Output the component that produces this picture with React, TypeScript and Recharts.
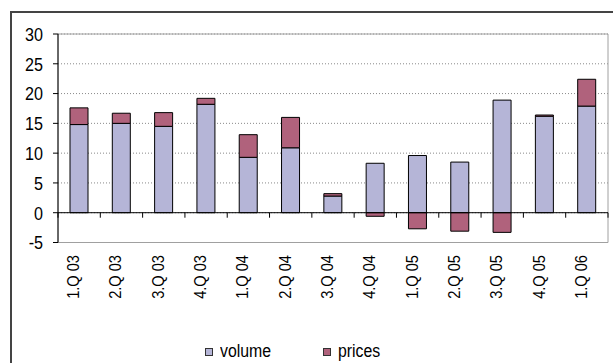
import { BarChart, Bar, XAxis, YAxis, CartesianGrid, ReferenceLine, ReferenceArea, Legend } from 'recharts'

const quarters = ['1.Q 03', '2.Q 03', '3.Q 03', '4.Q 03', '1.Q 04', '2.Q 04', '3.Q 04', '4.Q 04', '1.Q 05', '2.Q 05', '3.Q 05', '4.Q 05', '1.Q 06']
const volume = [14.8, 15.0, 14.5, 18.2, 9.3, 10.9, 2.8, 8.3, 9.6, 8.5, 18.9, 16.2, 17.9]
const prices = [2.8, 1.7, 2.3, 1.0, 3.8, 5.1, 0.4, -0.6, -2.7, -3.1, -3.3, 0.2, 4.5]
const yTicks = [-5, 0, 5, 10, 15, 20, 25, 30]

const FONT = "'Liberation Sans', Arial, sans-serif"
const VOL = '#b5b5d7'
const PRI = '#b0627c'

const data = quarters.map((q, i) => ({ q, volume: volume[i], prices: prices[i] }))

// zero line with small ticks between the categories
function ZeroLine(p: any) {
  const { x1, x2, y1 } = p
  const step = (x2 - x1) / quarters.length
  return (
    <g>
      <line x1={x1} x2={x2} y1={y1} y2={y1} stroke="#000" strokeWidth={1} />
      {quarters.concat('').map((_, i) => (
        <line key={i} x1={x1 + i * step} x2={x1 + i * step} y1={y1} y2={y1 + 5} stroke="#000" />
      ))}
    </g>
  )
}

function QuarterTick({ x, y, payload }: any) {
  return (
    <text transform={`translate(${x},${y + 12.5}) rotate(-90) scale(0.86,1)`} textAnchor="end" fontFamily={FONT} fontSize={17} fill="#000">
      {payload.value}
    </text>
  )
}

// narrow-looking value labels
function ValueTick({ x, y, payload }: any) {
  return (
    <text transform={`translate(${x},${y}) scale(0.85,1)`} textAnchor="end" dy="0.36em" fontFamily={FONT} fontSize={19} fill="#000">
      {payload.value}
    </text>
  )
}

function LegendBox() {
  const item = (color: string, label: string, left: number) => (
    <span style={{ position: 'absolute', left, top: 0, height: 23, display: 'flex', alignItems: 'center' }}>
      <span style={{ display: 'inline-block', width: 6, height: 6, border: '1px solid #333', background: color, marginRight: 7 }} />
      <span style={{ display: 'inline-block', transform: 'scaleX(0.88)', transformOrigin: 'left center' }}>{label}</span>
    </span>
  )
  return (
    <div style={{ position: 'relative', height: 23, fontFamily: FONT, fontSize: 18, color: '#000' }}>
      {item(VOL, 'volume', 0)}
      {item(PRI, 'prices', 118)}
    </div>
  )
}

export default function App() {
  return (
    <div style={{ position: 'absolute', left: 10, top: 11, width: 620, height: 360, borderLeft: '2px solid #444', borderTop: '2px solid #444' }}>
      <BarChart width={600} height={350} data={data} stackOffset="sign" margin={{ top: 21, right: 4, left: 0, bottom: 0 }}>
        <CartesianGrid vertical={false} stroke="#8a8a8a" strokeDasharray="1 2" />
        <ReferenceArea y1={-5} y2={30} fill="none" stroke="#a0a0a0" strokeWidth={1} />
        <XAxis dataKey="q" interval={0} height={97.5} axisLine={{ stroke: '#a0a0a0' }} tickLine={false} tickSize={0} tickMargin={0} tick={<QuarterTick />} />
        <YAxis domain={[-5, 30]} ticks={yTicks} width={46} axisLine={{ stroke: '#000' }} tickLine={{ stroke: '#000' }} tickSize={5} tickMargin={10}
          tick={<ValueTick />} />
        <Bar dataKey="volume" stackId="a" fill={VOL} stroke="#000" strokeWidth={1} barSize={18} isAnimationActive={false} />
        <Bar dataKey="prices" stackId="a" fill={PRI} stroke="#000" strokeWidth={1} barSize={18} isAnimationActive={false} />
        <ReferenceLine y={0} shape={<ZeroLine />} />
        <Legend verticalAlign="bottom" content={<LegendBox />} wrapperStyle={{ left: 193, width: 250, height: 23 }} />
      </BarChart>
    </div>
  )
}
